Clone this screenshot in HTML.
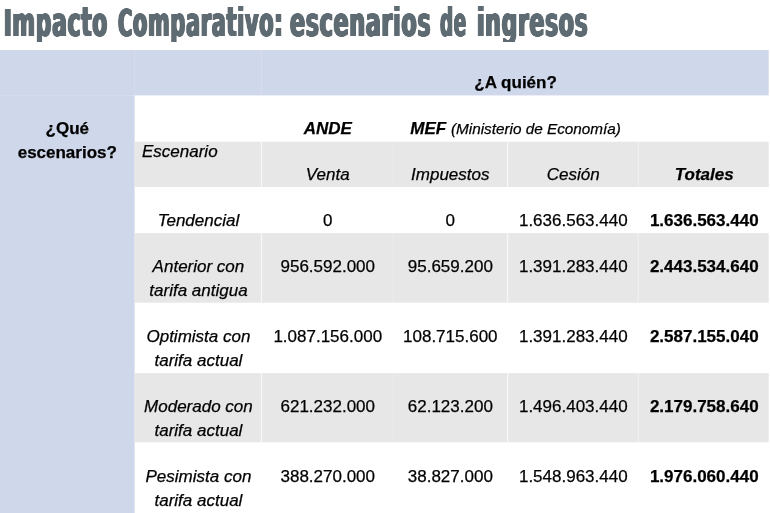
<!DOCTYPE html>
<html lang="es"><head><meta charset="utf-8"><title>Impacto Comparativo</title>
<style>
html,body{margin:0;padding:0;background:#fff;}
body{width:770px;height:513px;position:relative;overflow:hidden;font-family:"Liberation Sans",Arial,sans-serif;color:#000;}
.bg{position:absolute;left:0;top:0;}
.t{position:absolute;will-change:transform;-webkit-text-stroke:0.25px #000;font-size:17px;line-height:23.5px;white-space:nowrap;}
.b{font-weight:bold;}
.i{font-style:italic;}
.bi{font-weight:bold;font-style:italic;}
.sm{font-size:15.3px;}
h1{position:absolute;left:0;top:2.0px;margin:0;width:770px;height:40.0px;clip-path:inset(4.6px 0 0.4px 0);font-family:"DejaVu Sans Condensed","DejaVu Sans","Liberation Sans",sans-serif;font-size:40.0px;line-height:40.0px;font-weight:bold;color:#5f6b72;white-space:nowrap;letter-spacing:1.2px;text-shadow:0.5px 0 0 #5f6b72,-0.5px 0 0 #5f6b72,1.0px 0 0 #5f6b72,-1.0px 0 0 #5f6b72,1.4px 0 0 #5f6b72,-1.4px 0 0 #5f6b72;}
h1 span.w{position:absolute;top:0;transform-origin:0 0;will-change:transform;}
h1 span.c{font-size:0.93em;}
</style></head><body>
<svg class="bg" width="770" height="513" viewBox="0 0 770 513">
<rect x="0" y="50" width="768.70" height="45.40" fill="#cfd7ea"/>
<rect x="0" y="50" width="134.60" height="463.00" fill="#cfd7ea"/>
<rect x="134.6" y="141.7" width="634.10" height="45.30" fill="#e7e7e7"/>
<rect x="134.6" y="233.1" width="634.10" height="69.60" fill="#e7e7e7"/>
<rect x="134.6" y="373.2" width="634.10" height="69.10" fill="#e7e7e7"/>
<rect x="260.85" y="141.7" width="1.30" height="45.30" fill="#f7f7f7"/>
<rect x="392.5" y="141.7" width="1.00" height="45.30" fill="#ebebeb"/>
<rect x="506.95" y="141.7" width="1.30" height="45.30" fill="#f7f7f7"/>
<rect x="637.6" y="141.7" width="1.20" height="45.30" fill="#f1f1f1"/>
<rect x="260.85" y="233.1" width="1.30" height="69.60" fill="#f7f7f7"/>
<rect x="392.5" y="233.1" width="1.00" height="69.60" fill="#ebebeb"/>
<rect x="506.95" y="233.1" width="1.30" height="69.60" fill="#f7f7f7"/>
<rect x="637.6" y="233.1" width="1.20" height="69.60" fill="#f1f1f1"/>
<rect x="260.85" y="373.2" width="1.30" height="69.10" fill="#f7f7f7"/>
<rect x="392.5" y="373.2" width="1.00" height="69.10" fill="#ebebeb"/>
<rect x="506.95" y="373.2" width="1.30" height="69.10" fill="#f7f7f7"/>
<rect x="637.6" y="373.2" width="1.20" height="69.10" fill="#f1f1f1"/>
<rect x="134.1" y="50" width="1.00" height="45.40" fill="#d7deef"/>
<rect x="261" y="50" width="1.00" height="45.40" fill="#d7deef"/>
<rect x="0" y="94.9" width="134.60" height="1.00" fill="#d7deef"/>
</svg>
<h1><span class="w" style="left:3.99px;transform:scaleX(0.6059)"><span class="c">I</span>mpacto</span> <span class="w" style="left:117.92px;transform:scaleX(0.5793)"><span class="c">C</span>omparativo:</span> <span class="w" style="left:289.97px;transform:scaleX(0.6150)">escenarios</span> <span class="w" style="left:439.53px;transform:scaleX(0.5098)">de</span> <span class="w" style="left:477.14px;transform:scaleX(0.6082)">ingresos</span></h1>
<div class="t b" style="left:261.5px;top:71.40px;width:507.20px;text-align:center;">¿A quién?</div>
<div class="t b" style="left:0px;top:117.20px;width:134.60px;text-align:center;">¿Qué</div>
<div class="t b" style="left:0px;top:140.80px;width:134.60px;text-align:center;">escenarios?</div>
<div class="t bi" style="left:261.5px;top:117.20px;width:131.50px;text-align:center;">ANDE</div>
<div class="t i" style="left:393px;top:117.20px;width:245.20px;text-align:center;"><span class="bi">MEF</span> <span class="sm">(Ministerio de Economía)</span></div>
<div class="t i" style="left:142.1px;top:139.80px;width:119.40px;text-align:left;">Escenario</div>
<div class="t i" style="left:261.5px;top:162.70px;width:131.50px;text-align:center;">Venta</div>
<div class="t i" style="left:393px;top:162.70px;width:114.60px;text-align:center;">Impuestos</div>
<div class="t i" style="left:507.6px;top:162.70px;width:130.60px;text-align:center;">Cesión</div>
<div class="t bi" style="left:638.2px;top:162.70px;width:132.50px;text-align:center;">Totales</div>
<div class="t i" style="left:134.6px;top:208.90px;width:126.90px;text-align:center;">Tendencial</div>
<div class="t " style="left:261.5px;top:208.90px;width:131.50px;text-align:center;">0</div>
<div class="t " style="left:393px;top:208.90px;width:114.60px;text-align:center;">0</div>
<div class="t " style="left:507.6px;top:208.90px;width:130.60px;text-align:center;">1.636.563.440</div>
<div class="t b" style="left:638.2px;top:208.90px;width:132.50px;text-align:center;">1.636.563.440</div>
<div class="t i" style="left:134.6px;top:255.40px;width:126.90px;text-align:center;">Anterior con</div>
<div class="t i" style="left:134.6px;top:279.40px;width:126.90px;text-align:center;">tarifa antigua</div>
<div class="t " style="left:261.5px;top:255.40px;width:131.50px;text-align:center;">956.592.000</div>
<div class="t " style="left:393px;top:255.40px;width:114.60px;text-align:center;">95.659.200</div>
<div class="t " style="left:507.6px;top:255.40px;width:130.60px;text-align:center;">1.391.283.440</div>
<div class="t b" style="left:638.2px;top:255.40px;width:132.50px;text-align:center;">2.443.534.640</div>
<div class="t i" style="left:134.6px;top:325.20px;width:126.90px;text-align:center;">Optimista con</div>
<div class="t i" style="left:134.6px;top:349.20px;width:126.90px;text-align:center;">tarifa actual</div>
<div class="t " style="left:261.5px;top:325.20px;width:131.50px;text-align:center;">1.087.156.000</div>
<div class="t " style="left:393px;top:325.20px;width:114.60px;text-align:center;">108.715.600</div>
<div class="t " style="left:507.6px;top:325.20px;width:130.60px;text-align:center;">1.391.283.440</div>
<div class="t b" style="left:638.2px;top:325.20px;width:132.50px;text-align:center;">2.587.155.040</div>
<div class="t i" style="left:134.6px;top:395.40px;width:126.90px;text-align:center;">Moderado con</div>
<div class="t i" style="left:134.6px;top:419.40px;width:126.90px;text-align:center;">tarifa actual</div>
<div class="t " style="left:261.5px;top:395.40px;width:131.50px;text-align:center;">621.232.000</div>
<div class="t " style="left:393px;top:395.40px;width:114.60px;text-align:center;">62.123.200</div>
<div class="t " style="left:507.6px;top:395.40px;width:130.60px;text-align:center;">1.496.403.440</div>
<div class="t b" style="left:638.2px;top:395.40px;width:132.50px;text-align:center;">2.179.758.640</div>
<div class="t i" style="left:134.6px;top:465.40px;width:126.90px;text-align:center;">Pesimista con</div>
<div class="t i" style="left:134.6px;top:489.40px;width:126.90px;text-align:center;">tarifa actual</div>
<div class="t " style="left:261.5px;top:465.40px;width:131.50px;text-align:center;">388.270.000</div>
<div class="t " style="left:393px;top:465.40px;width:114.60px;text-align:center;">38.827.000</div>
<div class="t " style="left:507.6px;top:465.40px;width:130.60px;text-align:center;">1.548.963.440</div>
<div class="t b" style="left:638.2px;top:465.40px;width:132.50px;text-align:center;">1.976.060.440</div>
</body></html>
